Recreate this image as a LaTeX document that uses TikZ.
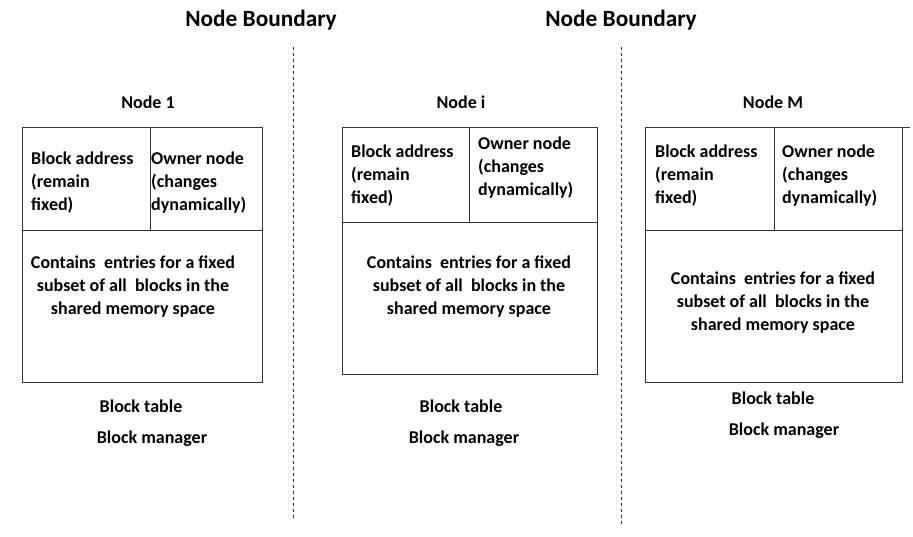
\documentclass[tikz,border=0pt]{standalone}
\usepackage{fontspec}
\setmainfont{Carlito}
\begin{document}
\begin{tikzpicture}[x=1pt, y=-1pt,
  txt/.style = {font=\bfseries\fontsize{18}{23}\selectfont, inner sep=0pt},
  cell/.style = {txt, anchor=west, align=left},
  body/.style = {txt, align=center},
  lbl/.style = {txt, anchor=base},
  title/.style = {font=\bfseries\fontsize{23.3}{27}\selectfont, inner sep=0pt, anchor=base},
  tbl/.style = {draw=black!80, line width=1pt},
  bound/.style = {draw=black!80, line width=0.8pt, dash pattern=on 3pt off 3pt}]

	\useasboundingbox (0,0) rectangle (913,536);

	% node boundaries
	\node[title] (T1) at (261,26) {Node Boundary};
	\node[title] (T2) at (621,26) {Node Boundary};
	\coordinate (L1a) at (293,47);
	\coordinate (L1b) at (293,520);
	\coordinate (L2a) at (621,47);
	\coordinate (L2b) at (621,525);
	\draw[bound] (L1a) -- (L1b);
	\draw[bound] (L2a) -- (L2b);

	% node 1
	\node[lbl] (N1) at (148,108) {Node 1};
	\draw[tbl] (22,127) rectangle (262,382);
	\draw[tbl] (22,230) -- (262,230);
	\draw[tbl] (150,127) -- (150,230);
	\node[cell] (A1) at (31,182.5) {Block address\\(remain\\fixed)};
	\node[cell] (O1) at (151,182.5) {Owner node\\(changes\\dynamically)};
	\node[body] (C1) at (133,286.5) {Contains~ entries for a fixed\\subset of all~ blocks in the\\shared memory space};
	\node[lbl] (BT1) at (141,412) {Block table};
	\node[lbl] (BM1) at (152,443) {Block manager};

	% node i
	\node[lbl] (Ni) at (461,108) {Node i};
	\draw[tbl] (342,127) rectangle (597,374);
	\draw[tbl] (342,222) -- (597,222);
	\draw[tbl] (469,127) -- (469,222);
	\node[cell] (Ai) at (351,175.5) {Block address\\(remain\\fixed)};
	\node[cell] (Oi) at (478,167.5) {Owner node\\(changes\\dynamically)};
	\node[body] (Ci) at (469,287) {Contains~ entries for a fixed\\subset of all~ blocks in the\\shared memory space};
	\node[lbl] (BTi) at (461,412) {Block table};
	\node[lbl] (BMi) at (464,443) {Block manager};

	% node M
	\node[lbl] (NM) at (773,108) {Node M};
	\draw[tbl] (645,127) rectangle (902,382);
	\draw[tbl] (902,127) -- (910,127);
	\draw[tbl] (645,230) -- (902,230);
	\draw[tbl] (774,127) -- (774,230);
	\node[cell] (AM) at (655,175.5) {Block address\\(remain\\fixed)};
	\node[cell] (OM) at (782,175.5) {Owner node\\(changes\\dynamically)};
	\node[body] (CM) at (773,303) {Contains~ entries for a fixed\\subset of all~ blocks in the\\shared memory space};
	\node[lbl] (BTM) at (773,404) {Block table};
	\node[lbl] (BMM) at (784,435) {Block manager};
\end{tikzpicture}
\end{document}
